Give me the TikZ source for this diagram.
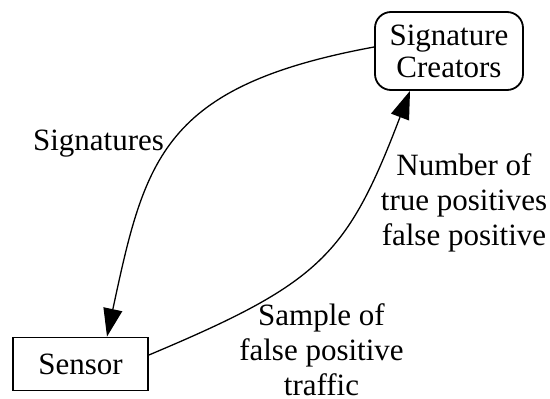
\documentclass[tikz,border=0pt]{standalone}
\usepackage{fontspec}
\setmainfont{Liberation Serif}
\usetikzlibrary{arrows.meta}
\begin{document}
\begin{tikzpicture}[x=1pt,y=-1pt,
  every node/.style={font=\fontsize{31}{34}\selectfont, inner sep=0pt},
  agent/.style={draw, line width=1.8pt, minimum width=135pt, minimum height=53pt},
  creator/.style={draw, line width=1.8pt, rounded corners=16pt, minimum width=148pt, minimum height=78pt, align=center, font=\fontsize{31}{32}\selectfont},
  lbl/.style={align=center, font=\fontsize{31}{35}\selectfont},
  flow/.style={line width=1.3pt, -{Triangle[length=28pt,width=19pt]}}]
\useasboundingbox (0,0) rectangle (550,399);
% the two parties
\node[agent] (sensor) at (80.5,364) {Sensor};
\node[creator] (creators) at (449,51) {Signature\\Creators};
% signatures flow down to the sensor
\draw[flow] (creators.west |- 0,47) .. controls (162,86) and (145,159) .. (sensor.north -| 107,0);
% feedback flows back up to the creators
\draw[flow] (sensor.east |- 0,355) .. controls (320,283) and (347,256) .. (creators.south -| 410,0);
% edge labels
\node[lbl, anchor=base] (sig) at (98.5,150) {Signatures};
\node[lbl, anchor=north] (num) at (464,150.5) {\strut Number of\\true positives\\false positive};
\node[lbl, anchor=north] (samp) at (321.5,300.5) {\strut Sample of\\false positive\\traffic};
\end{tikzpicture}
\end{document}
